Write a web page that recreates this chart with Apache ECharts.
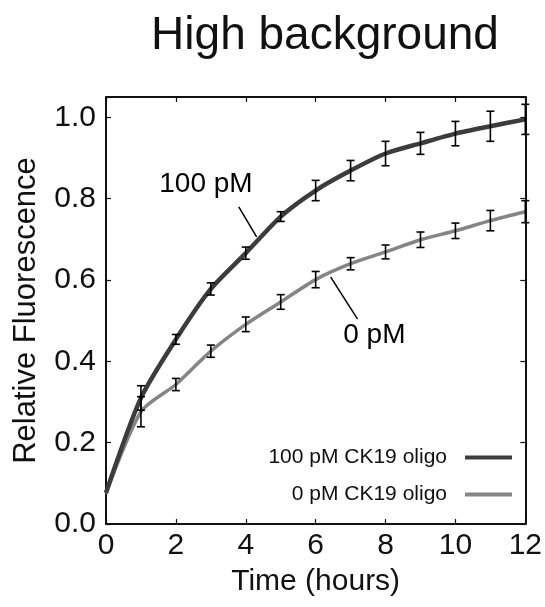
<!DOCTYPE html>
<html>
<head>
<meta charset="utf-8">
<script src="https://cdn.jsdelivr.net/npm/echarts@6/dist/echarts.min.js"></script>
<style>html,body{margin:0;padding:0;background:#fff;}#c{width:545px;height:607px;}</style>
</head>
<body>
<div id="c"></div>
<script>
const hours = [0,1,2,3,4,5,6,7,8,9,10,11,12];
const pm100 = [0.077,0.31,0.454,0.578,0.666,0.756,0.82,0.869,0.911,0.936,0.96,0.978,0.995];
const pm100Err = [0,0.03,0.012,0.015,0.015,0.012,0.025,0.025,0.03,0.027,0.03,0.037,0.037];
const pm0 = [0.075,0.276,0.343,0.425,0.491,0.546,0.601,0.64,0.669,0.699,0.721,0.746,0.768];
const pm0Err = [0,0.037,0.015,0.015,0.018,0.018,0.02,0.015,0.017,0.019,0.019,0.025,0.027];
const xTicks = [0,2,4,6,8,10,12];
const yTicks = [0,0.2,0.4,0.6,0.8,1.0];
const seriesNames = ['100 pM CK19 oligo','0 pM CK19 oligo'];
const titleText = 'High background';
const xName = 'Time (hours)';
const yName = 'Relative Fluorescence';
const note100 = {text:'100 pM', at:[2.86,0.835], from:[3.8,0.78], to:[4.31,0.706]};
const note0 = {text:'0 pM', at:[7.68,0.464], from:[6.43,0.607], to:[7.2,0.504]};

const FONT = "'Liberation Sans', Arial, sans-serif";
const c100 = '#3c3c3c', c0 = '#858585';

function pairs(ys){ return hours.map((h,i)=>[h, ys[i]]); }
function errData(ys, es){ return hours.map((h,i)=>[h, ys[i]-es[i], ys[i]+es[i]]).filter((d,i)=>es[i]>0); }
function errSeries(ys, es){
  return {
    type:'custom', z:5, silent:true,
    data: errData(ys, es),
    renderItem: function(params, api){
      const x = api.value(0);
      const lo = api.coord([x, api.value(1)]);
      const hi = api.coord([x, api.value(2)]);
      const w = 4;
      const st = {stroke:'#000', lineWidth:1.6};
      return {type:'group', children:[
        {type:'line', shape:{x1:lo[0],y1:lo[1],x2:hi[0],y2:hi[1]}, style:st},
        {type:'line', shape:{x1:lo[0]-w,y1:lo[1],x2:lo[0]+w,y2:lo[1]}, style:st},
        {type:'line', shape:{x1:hi[0]-w,y1:hi[1],x2:hi[0]+w,y2:hi[1]}, style:st}
      ]};
    }
  };
}
function note(n){
  return {
    markPoint:{symbol:'circle', symbolSize:0, silent:true,
      label:{show:true, position:'inside', formatter:n.text, fontSize:28, color:'#000', fontFamily:FONT},
      data:[{coord:n.at}]},
    markLine:{symbol:'none', silent:true, label:{show:false},
      lineStyle:{color:'#000', width:1.5, type:'solid'},
      data:[[{coord:n.from},{coord:n.to}]]}
  };
}

function axisCommon(){
  return {
    axisLine:{show:true, onZero:false, lineStyle:{color:'#111', width:2}},
    axisTick:{show:true, inside:true, length:5, lineStyle:{color:'#111', width:1.2}},
    splitLine:{show:false}
  };
}
const chart = echarts.init(document.getElementById('c'), null, {renderer:'canvas'});
chart.setOption({
  backgroundColor:'#fff',
  animation:false,
  textStyle:{fontFamily:FONT},
  title:{text:titleText, left:320, textAlign:'center', top:8,
    textStyle:{fontSize:46, fontWeight:'normal', color:'#111', fontFamily:FONT}},
  grid:{left:106, right:15, top:97, bottom:83, containLabel:false},
  legend:{
    data:seriesNames, orient:'vertical', align:'right', right:28, top:442,
    itemGap:16, itemWidth:47, itemHeight:4, icon:'rect',
    textStyle:{fontSize:21, color:'#111', fontFamily:FONT, padding:[0,13,0,0]}
  },
  xAxis:[
    Object.assign({type:'value', min:0, max:12, interval:2, position:'bottom',
      name:xName, nameLocation:'middle', nameGap:43,
      nameTextStyle:{fontSize:30, color:'#111', fontFamily:FONT},
      axisLabel:{fontSize:30, color:'#111', margin:7, fontFamily:FONT,
        formatter:v=>xTicks.includes(v)?String(v):''}}, axisCommon()),
    Object.assign({type:'value', min:0, max:12, interval:2, position:'top',
      axisLabel:{show:false}}, axisCommon())
  ],
  yAxis:[
    Object.assign({type:'value', min:0, max:1.05, interval:0.2, position:'left',
      name:yName, nameLocation:'middle', nameGap:64,
      nameTextStyle:{fontSize:31, color:'#111', fontFamily:FONT},
      axisLabel:{fontSize:30, color:'#111', margin:10, fontFamily:FONT,
        formatter:v=>{const m=yTicks.find(t=>Math.abs(t-v)<1e-6);return m===undefined?'':m.toFixed(1);}}}, axisCommon()),
    Object.assign({type:'value', min:0, max:1.05, interval:0.2, position:'right',
      axisLabel:{show:false}}, axisCommon())
  ],
  series:[
    Object.assign({name:seriesNames[0], type:'line', data:pairs(pm100), showSymbol:false, smooth:0.25,
      color:c100, lineStyle:{color:c100, width:4.5}, z:3}, note(note100)),
    Object.assign({name:seriesNames[1], type:'line', data:pairs(pm0), showSymbol:false, smooth:0.25,
      color:c0, lineStyle:{color:c0, width:3.5}, z:2}, note(note0)),
    errSeries(pm100, pm100Err),
    errSeries(pm0, pm0Err)
  ]
});
</script>
</body>
</html>
